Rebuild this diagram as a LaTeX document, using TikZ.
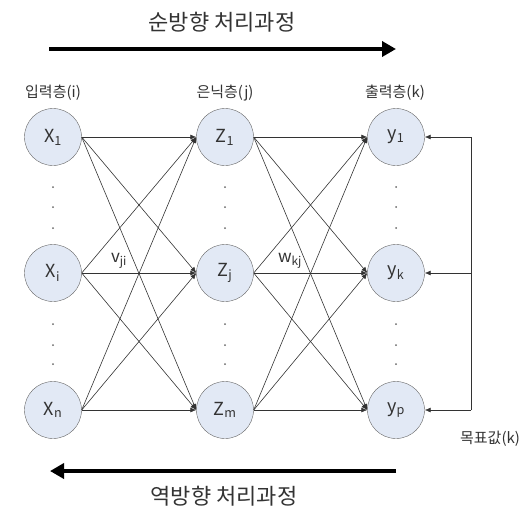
\documentclass[tikz,border=0pt]{standalone}
\usepackage{fontspec}
\setmainfont{Noto Sans CJK KR}
\usepackage{tikz}
\usetikzlibrary{arrows.meta}
\definecolor{cellfill}{RGB}{226,233,245}

\begin{document}
\begin{tikzpicture}[x=1pt,y=-1pt,
    unit/.style={draw=black!60,fill=cellfill,circle,minimum size=57pt,inner sep=0pt,font=\fontsize{18}{18}\selectfont,text=black!80},
    link/.style={black!80,line width=.6pt,-{Latex[length=6pt,width=5pt]}},
    flow/.style={line width=4pt,-{Triangle[length=14pt,width=15pt]}},
    lbl/.style={font=\fontsize{15}{15}\selectfont,text=black!80}]
    \useasboundingbox (0,0) rectangle (526,512);
    \node[font=\fontsize{22}{22}\selectfont,text=black!80] (fwdtxt) at (222,22) {순방향 처리과정};
    \node[font=\fontsize{22}{22}\selectfont,text=black!80] (bwdtxt) at (224,496) {역방향 처리과정};
    \coordinate (fwdS) at (49,49);
    \coordinate (fwdE) at (396,49);
    \coordinate (bwdS) at (396,471);
    \coordinate (bwdE) at (50,471);
    \draw[flow] (fwdS)--(fwdE);
    \draw[flow] (bwdS)--(bwdE);
    \node[lbl] (inlbl) at (53,93) {입력층(i)};
    \node[lbl] (hidlbl) at (225,93) {은닉층(j)};
    \node[lbl] (outlbl) at (395,93) {출력층(k)};
    \node[unit] (x1) at (53,137) {X\textsubscript{1}};
    \node[unit] (xi) at (53,273) {X\textsubscript{i}};
    \node[unit] (xn) at (53,410) {X\textsubscript{n}};
    \node[unit] (z1) at (225,137) {Z\textsubscript{1}};
    \node[unit] (zj) at (225,273) {Z\textsubscript{j}};
    \node[unit] (zm) at (225,410) {Z\textsubscript{m}};
    \node[unit] (y1) at (396,137) {y\textsubscript{1}};
    \node[unit] (yk) at (396,273) {y\textsubscript{k}};
    \node[unit] (yp) at (396,410) {y\textsubscript{p}};
    \foreach \a in {x1,xi,xn}
      \foreach \b in {z1,zj,zm}
        {\draw[link] (\a.east)--(\b.west);}
    \foreach \a in {z1,zj,zm}
      \foreach \b in {y1,yk,yp}
        {\draw[link] (\a.east)--(\b.west);}
    \foreach \c in {53,225,396}
      \foreach \d in {187,207,228,324,345,364}
        {\fill[black!60] (\c,\d) circle (1pt);}
    \node[lbl,font=\fontsize{17}{17}\selectfont] (vji) at (119,261) {v\textsubscript{ji}};
    \node[lbl,font=\fontsize{17}{17}\selectfont] (wkj) at (290,261) {w\textsubscript{kj}};
    \coordinate (fb1) at (471,137);
    \coordinate (fbk) at (471,273);
    \coordinate (fbp) at (471,410);
    \draw[black!80,line width=.8pt] (fb1)--(fbp);
    \foreach \t/\y in {fb1/y1,fbk/yk,fbp/yp}
      {\draw[link] (\t)--(\y);}
    \node[lbl] (target) at (490,439) {목표값(k)};
\end{tikzpicture}
\end{document}
